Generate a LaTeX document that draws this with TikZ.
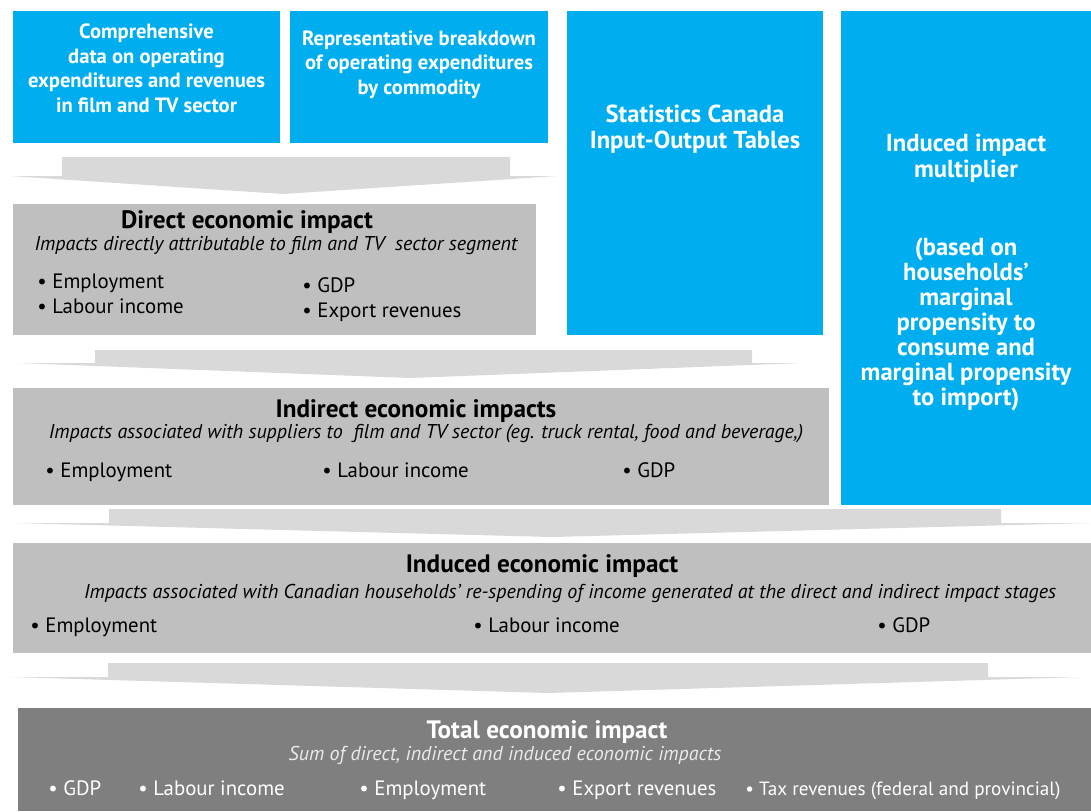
\documentclass[tikz,border=0pt]{standalone}
\usepackage{fontspec}
\setmainfont{PT Sans}

\definecolor{inputblue}{HTML}{00AEEF}
\definecolor{stagegray}{HTML}{BFBFBF}
\definecolor{totalgray}{HTML}{7F7F7F}
\definecolor{arrowgray}{HTML}{D9D9D9}

\begin{document}
\begin{tikzpicture}[x=0.5pt,y=-0.5pt,
    box/.style={anchor=north west,inner sep=0pt,outer sep=0pt},
    inputbox/.style={box,fill=inputblue},
    stagebox/.style={box,fill=stagegray},
    totalbox/.style={box,fill=totalgray},
    inputtext/.style={text=white,align=center,anchor=base,inner sep=0pt,
        font=\bfseries\fontsize{10.3}{12.2}\selectfont},
    bigtext/.style={inputtext,font=\bfseries\fontsize{12.3}{13}\selectfont},
    heading/.style={anchor=base,inner sep=0pt,font=\bfseries\fontsize{12.6}{14}\selectfont},
    note/.style={anchor=base,inner sep=0pt,font=\itshape\fontsize{10}{12}\selectfont},
    item/.style={anchor=base west,inner sep=0pt,font=\fontsize{10.4}{12}\selectfont},
    stagearrow/.style={fill=arrowgray}
]
\useasboundingbox (0,0) rectangle (1091,811);

% Input boxes (blue)
\node[inputbox,minimum width=133.5pt,minimum height=66pt] (data) at (13,11) {};
\node[inputbox,minimum width=129pt,minimum height=66pt] (breakdown) at (290,11) {};
\node[inputbox,minimum width=128pt,minimum height=162pt] (iotables) at (567,11) {};
\node[inputbox,minimum width=125pt,minimum height=247pt] (multiplier) at (841,11) {};

% (anchor base = baseline of the last line)
\node[inputtext] (datatext) at (146.5,112)
    {Comprehensive\\data on operating\\expenditures and revenues\\in film and TV sector};
\node[inputtext] (breakdowntext) at (419,94)
    {Representative breakdown\\of operating expenditures\\by commodity};
\node[bigtext] (iotext) at (695,148) {Statistics Canada\\Input-Output Tables};
\node[bigtext] (multipliertext) at (966,177) {Induced impact\\multiplier};
\node[bigtext,font=\bfseries\fontsize{12.3}{12.5}\selectfont] (basistext) at (966,405)
    {(based on\\households'\\marginal\\propensity to\\consume and\\marginal propensity\\to import)};

% Arrows between stages
\fill[stagearrow] (62,157) -- (510,157) -- (510,176) -- (557,176) -- (283,194)
    -- (10,176) -- (62,176) -- cycle;
\fill[stagearrow] (95,350) -- (752,350) -- (752,363) -- (802,363) -- (410,378)
    -- (18,363) -- (95,363) -- cycle;
\fill[stagearrow] (109,509) -- (1001,509) -- (1001,523) -- (1091,523) -- (552,537)
    -- (14,523) -- (109,523) -- cycle;
\fill[stagearrow] (108,663) -- (988,663) -- (988,677) -- (1082,677) -- (548,693)
    -- (10,677) -- (108,677) -- cycle;

% Direct impact
\node[stagebox,minimum width=261.5pt,minimum height=65.5pt] (direct) at (13,204) {};
\node[heading] (directtitle) at (247,228) {Direct economic impact};
\node[note] (directnote) at (276,250) {Impacts directly attributable to film and TV \ sector segment};
\node[item] (directemp) at (37,288) {\textbullet\ Employment};
\node[item] (directinc) at (37,313) {\textbullet\ Labour income};
\node[item] (directgdp) at (302,292) {\textbullet\ GDP};
\node[item] (directexp) at (302,317) {\textbullet\ Export revenues};

% Indirect impacts
\node[stagebox,minimum width=408pt,minimum height=58.5pt] (indirect) at (13,388) {};
\node[heading] (indirecttitle) at (416,417) {Indirect economic impacts};
\node[note] (indirectnote) at (426,438)
    {Impacts associated with suppliers to \ film and TV sector (eg. truck rental, food and beverage,)};
\node[item] (indirectemp) at (45,477) {\textbullet\ Employment};
\node[item] (indirectinc) at (322,477) {\textbullet\ Labour income};
\node[item] (indirectgdp) at (622,477) {\textbullet\ GDP};

% Induced impact
\node[stagebox,minimum width=539pt,minimum height=55pt] (induced) at (13,543) {};
\node[heading] (inducedtitle) at (542,572) {Induced economic impact};
\node[note] (inducednote) at (570,598)
    {Impacts associated with Canadian households' re-spending of income generated at the direct and indirect impact stages};
\node[item] (inducedemp) at (30,632) {\textbullet\ Employment};
\node[item] (inducedinc) at (473,632) {\textbullet\ Labour income};
\node[item] (inducedgdp) at (877,632) {\textbullet\ GDP};

% Total impact
\node[totalbox,minimum width=536.5pt,minimum height=51.5pt] (total) at (18,708) {};
\node[heading,text=white] (totaltitle) at (547,738) {Total economic impact};
\node[note,text=white!92!black] (totalnote) at (505,760)
    {Sum of direct, indirect and induced economic impacts};
\node[item,text=white] (totalgdp) at (48,795) {\textbullet\ GDP};
\node[item,text=white] (totalinc) at (138,795) {\textbullet\ Labour income};
\node[item,text=white] (totalemp) at (359,795) {\textbullet\ Employment};
\node[item,text=white] (totalexp) at (557,795) {\textbullet\ Export revenues};
\node[item,text=white,font=\fontsize{9.6}{12}\selectfont] (totaltax) at (745,795)
    {\textbullet\ Tax revenues (federal and provincial)};

\end{tikzpicture}
\end{document}
